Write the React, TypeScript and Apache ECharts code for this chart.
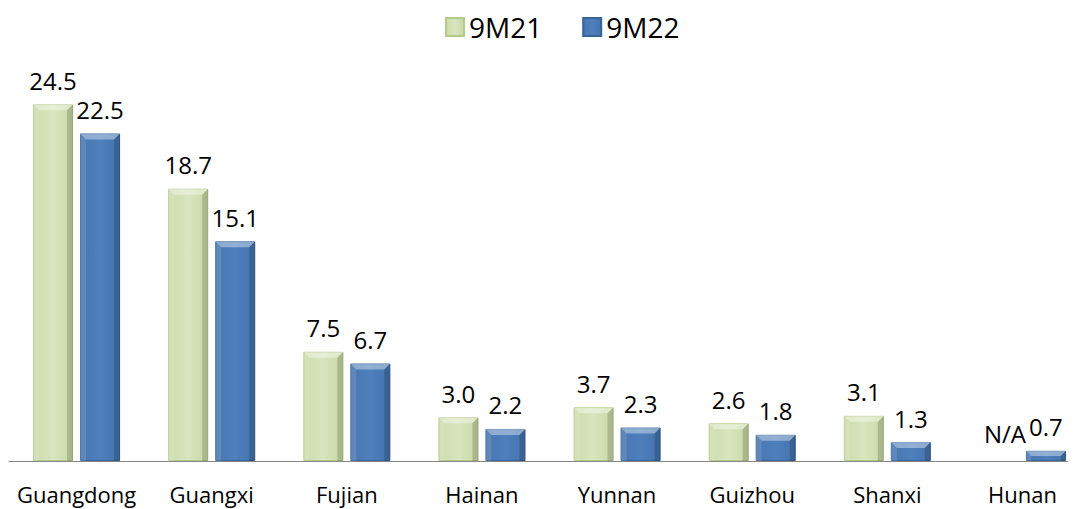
import React, { useEffect, useRef } from "react";
import * as echarts from "echarts";

const categories = ["Guangdong", "Guangxi", "Fujian", "Hainan", "Yunnan", "Guizhou", "Shanxi", "Hunan"];
const values9M21: (number | null)[] = [24.5, 18.7, 7.5, 3.0, 3.7, 2.6, 3.1, null];
const values9M22: number[] = [22.5, 15.1, 6.7, 2.2, 2.3, 1.8, 1.3, 0.7];
const seriesNames = ["9M21", "9M22"];

const FONT = "'Open Sans', sans-serif";
const BAR_W = 40;
const HALF_OFFSET = 23.5;

const greenFill = new echarts.graphic.LinearGradient(0, 0, 1, 0, [
  { offset: 0, color: "#cddcac" },
  { offset: 0.5, color: "#d8e5be" },
  { offset: 1, color: "#c9d8a6" },
]);
const blueFill = new echarts.graphic.LinearGradient(0, 0, 1, 0, [
  { offset: 0, color: "#4876b0" },
  { offset: 0.5, color: "#4f80bc" },
  { offset: 1, color: "#4473ad" },
]);

export default function App() {
  const ref = useRef<HTMLDivElement>(null);
  useEffect(() => {
    if (!ref.current) return;
    const chart = echarts.init(ref.current, null, { renderer: "svg" });
    const fmt = (v: number) => v.toFixed(1);
    const labelBase = {
      show: true,
      position: "top",
      distance: 12,
      fontSize: 24,
      color: "#000",
      fontFamily: FONT,
    };
    const bevelData: number[][] = [];
    values9M21.forEach((v, i) => {
      if (v !== null) bevelData.push([i, v, -HALF_OFFSET, 0]);
    });
    values9M22.forEach((v, i) => bevelData.push([i, v, HALF_OFFSET, 1]));

    const renderBevel = (params: any, api: any) => {
      const idx = api.value(0);
      const val = api.value(1);
      const off = api.value(2);
      const top = api.coord([idx, val]);
      const base = api.coord([idx, 0]);
      const cx = top[0] + off;
      const x0 = cx - BAR_W / 2;
      const x1 = cx + BAR_W / 2;
      const y0 = top[1];
      const y1 = base[1];
      const h = y1 - y0;
      const b = Math.min(6, h / 2);
      return {
        type: "group",
        silent: true,
        children: [
          {
            type: "polygon",
            shape: { points: [[x0, y0], [x1, y0], [x1 - b, y0 + b], [x0 + b, y0 + b]] },
            style: { fill: "rgba(255,255,255,0.38)" },
          },
          {
            type: "polygon",
            shape: { points: [[x0, y0], [x0 + b, y0 + b], [x0 + b, y1], [x0, y1]] },
            style: { fill: "rgba(255,255,255,0.12)" },
          },
          {
            type: "polygon",
            shape: { points: [[x1, y0], [x1 - b, y0 + b], [x1 - b, y1], [x1, y1]] },
            style: { fill: "rgba(0,0,0,0.16)" },
          },
        ],
      };
    };

    chart.setOption({
      animation: false,
      textStyle: { fontFamily: FONT },
      legend: {
        data: seriesNames,
        top: 5,
        left: 437,
        padding: 0,
        itemWidth: 18,
        itemHeight: 18,
        itemGap: 40,
        icon: "rect",
        textStyle: { fontSize: 28, lineHeight: 28, color: "#000", fontFamily: FONT },
      },
      grid: { left: 1, right: 0, top: 89, bottom: 48 },
      xAxis: {
        type: "category",
        data: categories,
        axisLine: { lineStyle: { color: "#868686", width: 1 } },
        axisTick: { show: false },
        axisLabel: { interval: 0, fontSize: 22, color: "#000", margin: 22, fontFamily: FONT },
      },
      yAxis: { type: "value", min: 0, max: 25, show: false, splitLine: { show: false } },
      series: [
        {
          name: seriesNames[0],
          type: "bar",
          barWidth: BAR_W,
          barGap: "17.5%",
          itemStyle: { color: greenFill, borderColor: "#b5c98b", borderWidth: 1 },
          label: { ...labelBase, formatter: (p: any) => fmt(p.value) },
          data: values9M21.map((v) =>
            v === null
              ? {
                  value: 0,
                  itemStyle: { color: "transparent", borderWidth: 0 },
                  label: { formatter: "N/A", offset: [6, -4] },
                }
              : v
          ),
        },
        {
          name: seriesNames[1],
          type: "bar",
          barWidth: BAR_W,
          itemStyle: { color: blueFill, borderColor: "#36639b", borderWidth: 1 },
          label: { ...labelBase, formatter: (p: any) => fmt(p.value) },
          data: values9M22,
        },
        {
          type: "custom",
          renderItem: renderBevel,
          data: bevelData,
          silent: true,
          z: 5,
        },
      ],
    });
    return () => chart.dispose();
  }, []);
  return (
    <div style={{ width: 1068, height: 501, overflow: "hidden" }}>
      <div ref={ref} style={{ width: 1082, height: 501 }} />
    </div>
  );
}
